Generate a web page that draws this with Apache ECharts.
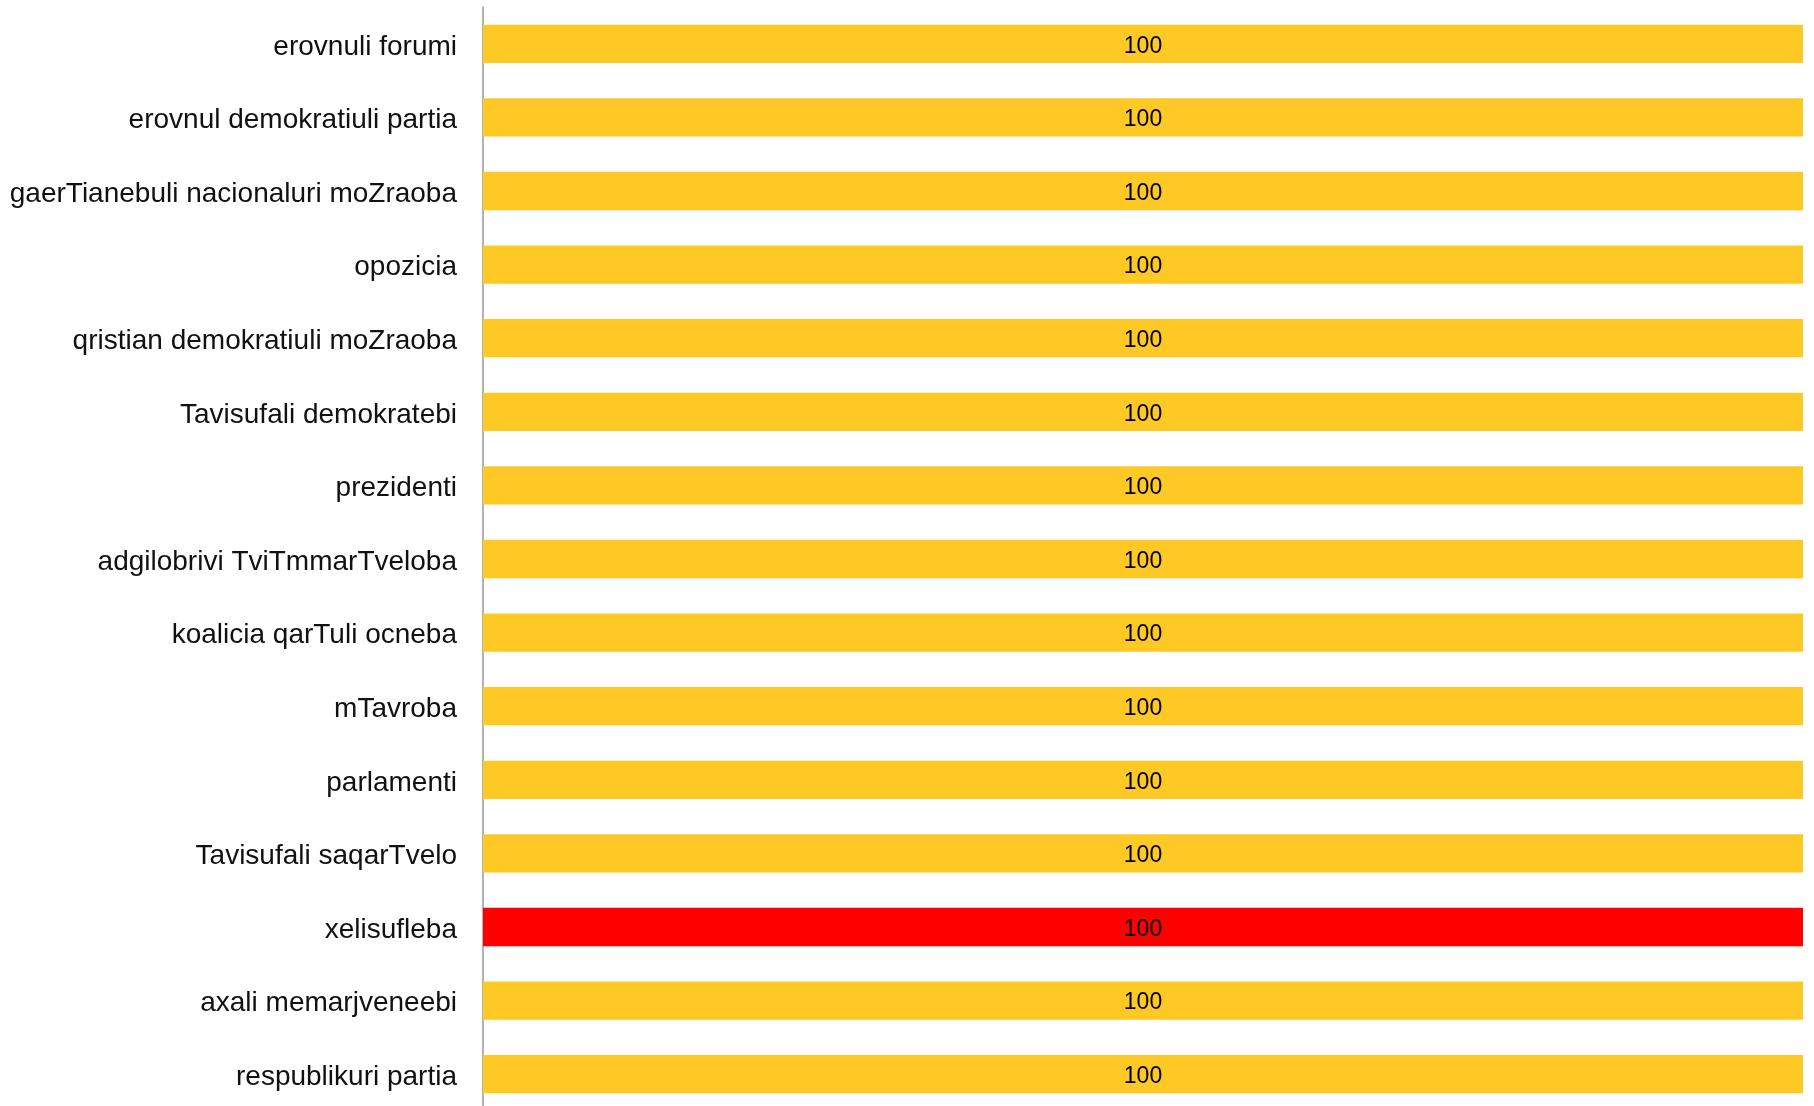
<!DOCTYPE html>
<html>
<head>
<meta charset="utf-8">
<script src="https://cdn.jsdelivr.net/npm/echarts@6/dist/echarts.min.js"></script>
<style>
  html, body { margin: 0; padding: 0; background: #fff; }
  #main { width: 1814px; height: 1106px; }
</style>
</head>
<body>
<div id="main"></div>
<script type="text/javascript">
  // categories, top to bottom
  var categories = [
    'erovnuli forumi',
    'erovnul demokratiuli partia',
    'gaerTianebuli nacionaluri moZraoba',
    'opozicia',
    'qristian demokratiuli moZraoba',
    'Tavisufali demokratebi',
    'prezidenti',
    'adgilobrivi TviTmmarTveloba',
    'koalicia qarTuli ocneba',
    'mTavroba',
    'parlamenti',
    'Tavisufali saqarTvelo',
    'xelisufleba',
    'axali memarjveneebi',
    'respublikuri partia'
  ];
  var values = [100, 100, 100, 100, 100, 100, 100, 100, 100, 100, 100, 100, 100, 100, 100];
  var highlighted = 'xelisufleba';

  var chart = echarts.init(document.getElementById('main'));
  chart.setOption({
    animation: false,
    grid: {
      left: 483,
      right: 11,
      top: 7,
      height: 1104,
      outerBoundsMode: 'none' // last band runs a bit past the bottom edge
    },
    xAxis: {
      type: 'value',
      min: 0,
      max: 100,
      show: false
    },
    yAxis: {
      type: 'category',
      inverse: true,
      data: categories,
      axisLine: { show: true, lineStyle: { color: '#999', width: 1.5 } },
      axisTick: { show: false },
      axisLabel: {
        margin: 26,
        formatter: '{l|{value}}',
        rich: {
          // pushes the text a little below the band centre, as in the original
          l: {
            fontSize: 28,
            padding: [6, 0, 0, 0],
            color: '#111',
            fontFamily: 'Liberation Sans, Arial, sans-serif'
          }
        }
      }
    },
    series: [{
      type: 'bar',
      data: values,
      barCategoryGap: '48%',
      itemStyle: {
        color: function (p) {
          return categories[p.dataIndex] === highlighted ? '#ff0000' : '#fec925';
        }
      },
      label: {
        show: true,
        position: 'inside',
        offset: [0, 2.5],
        fontSize: 23,
        color: '#000',
        fontFamily: 'Liberation Sans, Arial, sans-serif'
      }
    }]
  });
</script>
</body>
</html>
